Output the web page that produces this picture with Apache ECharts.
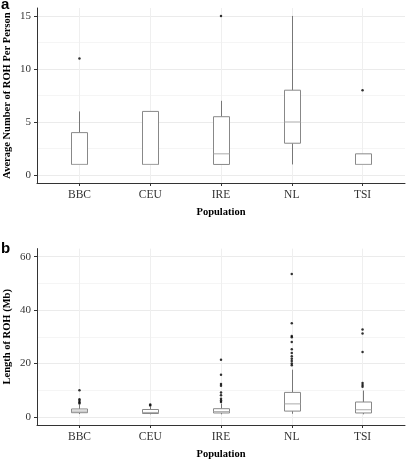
<!DOCTYPE html>
<html><head><meta charset="utf-8">
<script src="https://cdn.jsdelivr.net/npm/echarts@6/dist/echarts.min.js"></script>
<style>html,body{margin:0;padding:0;background:#fff}#c{width:406px;height:460px}</style>
</head><body><div id="c"></div>
<script>
var categories = ['BBC', 'CEU', 'IRE', 'NL', 'TSI'];
// Panel a: [min, Q1, median, Q3, max]
var countBoxes = [[1,1,1,4,6],[1,1,1,6,6],[1,1,2,5.5,7],[1,3,5,8,15],[1,1,1,2,2]];
var countOutliers = [[11],[],[15],[],[8]];
// Panel b
var lengthBoxes = [[1.1,1.6,2.2,3.0,4.5],[1.0,1.3,1.7,2.8,3.8],[1.0,1.5,2.0,3.1,5.0],[1.2,2.2,4.9,9.2,17.7],[1.0,1.5,2.7,5.6,9.9]];
var lengthOutliers = [
  [10, 6.6, 6.1, 5.5, 5.0],
  [4.7, 4.3],
  [21.4, 15.8, 12.3, 11.7, 9.2, 8.1, 6.8, 6.2, 5.6],
  [53.5, 35.1, 30.3, 29.8, 28.1, 25.3, 23.9, 22.7, 21.8, 20.9, 20.0, 19.4],
  [32.7, 31.2, 24.3, 12.7, 12.0, 11.3]
];
var countTicks = [0, 5, 10, 15], countMinor = [2.5, 7.5, 12.5];
var lengthTicks = [0, 20, 40, 60], lengthMinor = [10, 30, 50];

var catIdx = categories.map(function(_, i){ return i; });
function boxData(b){ return b.map(function(v, i){ return [i].concat(v); }); }
function outData(o){ var r=[]; o.forEach(function(a,i){ a.forEach(function(v){ r.push([i,v]); }); }); return r; }

var serif = 'Liberation Serif';
function xAxis(gi, gap){
  return {
    type:'value', gridIndex:gi, min:-0.6, max:4.6,
    name:'Population', nameLocation:'middle', nameGap:gap, nameMoveOverlap:false,
    nameTextStyle:{fontFamily:serif, fontWeight:'bold', fontSize:10.5, color:'#000'},
    axisLine:{onZero:false, lineStyle:{color:'#333', width:1}},
    axisTick:{customValues:catIdx, length:3, lineStyle:{color:'#333'}},
    axisLabel:{customValues:catIdx, formatter:function(v){ return categories[Math.round(v)]; }, fontFamily:serif, fontSize:11.5, color:'#333', margin:6},
    splitLine:{show:true, lineStyle:{color:'#efefef', width:1}}
  };
}
function yAxis(gi, min, max, ticks, name){
  return {
    type:'value', gridIndex:gi, min:min, max:max,
    name:name, nameLocation:'middle', nameGap:24, nameMoveOverlap:false,
    nameTextStyle:{fontFamily:serif, fontWeight:'bold', fontSize:10.5, color:'#000'},
    axisLine:{show:true, onZero:false, lineStyle:{color:'#333', width:1}},
    axisTick:{show:true, customValues:ticks, length:3, lineStyle:{color:'#333'}},
    axisLabel:{customValues:ticks, fontFamily:serif, fontSize:11, color:'#333', margin:6},
    splitLine:{show:true, lineStyle:{color:'#ebebeb', width:1}}
  };
}
function yMinor(gi, min, max, ticks){
  return {
    type:'value', gridIndex:gi, min:min, max:max,
    axisLine:{show:false, onZero:false}, axisLabel:{show:false},
    axisTick:{show:false, customValues:ticks},
    splitLine:{show:true, lineStyle:{color:'#f5f5f5', width:1}}
  };
}
function renderBox(params, api){
  var x = api.value(0);
  var pMin = api.coord([x, api.value(1)]);
  var pQ1 = api.coord([x, api.value(2)]);
  var pMed = api.coord([x, api.value(3)]);
  var pQ3 = api.coord([x, api.value(4)]);
  var pMax = api.coord([x, api.value(5)]);
  var hw = 8, cx = Math.round(pQ1[0]) + 0.5;
  return {type:'group', children:[
    {type:'line', shape:{x1:cx, y1:pQ3[1], x2:cx, y2:pMax[1]}, style:{stroke:'#777', lineWidth:1}},
    {type:'line', shape:{x1:cx, y1:pQ1[1], x2:cx, y2:pMin[1]}, style:{stroke:'#777', lineWidth:1}},
    {type:'rect', shape:{x:cx-hw, y:pQ3[1], width:2*hw, height:pQ1[1]-pQ3[1]}, style:{fill:'#fff', stroke:'#888', lineWidth:1}},
    {type:'line', shape:{x1:cx-hw, y1:pMed[1], x2:cx+hw, y2:pMed[1]}, style:{stroke:'#aaa', lineWidth:1}}
  ]};
}
var chart = echarts.init(document.getElementById('c'));
chart.setOption({
  animation:false,
  grid:[
    {left:37, top:8, width:368, height:175, outerBoundsMode:'none', containLabel:false},
    {left:37, top:248.6, width:368, height:176.4, outerBoundsMode:'none', containLabel:false}
  ],
  xAxis:[xAxis(0, 24), xAxis(1, 23.5)],
  yAxis:[
    yAxis(0, -0.75, 15.75, countTicks, 'Average Number of ROH Per Person'),
    yAxis(1, -3, 63, lengthTicks, 'Length of ROH (Mb)'),
    yMinor(0, -0.75, 15.75, countMinor),
    yMinor(1, -3, 63, lengthMinor)
  ],
  graphic:[
    {type:'text', left:1, top:-3, style:{text:'a', font:'bold 15px "Liberation Sans"', fill:'#000'}},
    {type:'text', left:1, top:241, style:{text:'b', font:'bold 15px "Liberation Sans"', fill:'#000'}}
  ],
  series:[
    {type:'custom', xAxisIndex:0, yAxisIndex:0, data:boxData(countBoxes), renderItem:renderBox, encode:{x:0, y:[1,2,3,4,5]}, z:3},
    {type:'scatter', xAxisIndex:0, yAxisIndex:0, data:outData(countOutliers), symbolSize:2.5, itemStyle:{color:'#000'}, z:4},
    {type:'custom', xAxisIndex:1, yAxisIndex:1, data:boxData(lengthBoxes), renderItem:renderBox, encode:{x:0, y:[1,2,3,4,5]}, z:3},
    {type:'scatter', xAxisIndex:1, yAxisIndex:1, data:outData(lengthOutliers), symbolSize:2.5, itemStyle:{color:'#000'}, z:4}
  ]
});
</script></body></html>
